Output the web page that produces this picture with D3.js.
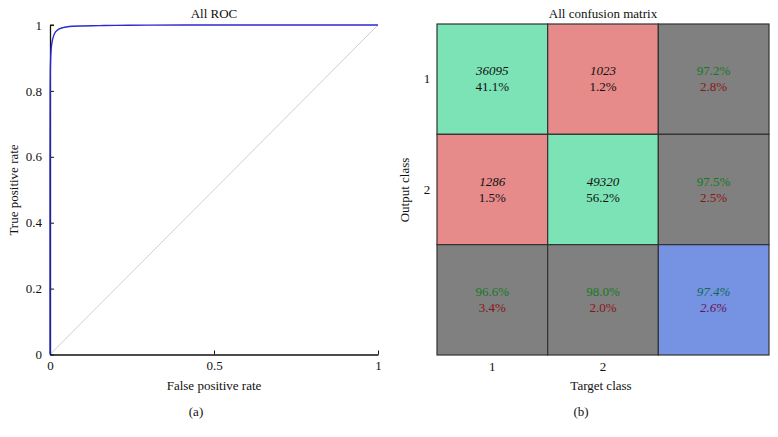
<!DOCTYPE html>
<html><head><meta charset="utf-8">
<script src="https://cdn.jsdelivr.net/npm/d3@7"></script>
<style>body{margin:0;background:#fff}svg{display:block}text{font-family:"Liberation Serif","DejaVu Serif",serif;fill:#111}</style>
</head><body>
<script>
// ROC data
const fpr = [0, 0, 0.0005, 0.001, 0.002, 0.003, 0.005, 0.007, 0.01, 0.013, 0.017, 0.022, 0.03, 0.04, 0.05, 0.07, 0.1, 0.15, 0.2, 0.3, 0.5, 0.7, 1];
const tpr = [0, 0.55, 0.8, 0.86, 0.9, 0.92, 0.94, 0.952, 0.964, 0.972, 0.979, 0.984, 0.989, 0.992, 0.994, 0.996, 0.997, 0.998, 0.999, 0.9995, 1, 1, 1];
const rocXTicks = [0, 0.5, 1];
const rocYTicks = [0, 0.2, 0.4, 0.6, 0.8, 1];
// Confusion matrix data
const classes = ["1", "2"];
const counts = [[36095, 1023], [1286, 49320]];
const countPct = [["41.1%", "1.2%"], ["1.5%", "56.2%"]];
const rowCorrect = ["97.2%", "97.5%"], rowWrong = ["2.8%", "2.5%"];
const colCorrect = ["96.6%", "98.0%"], colWrong = ["3.4%", "2.0%"];
const totalCorrect = "97.4%", totalWrong = "2.6%";

const W = 778, H = 437;
const svg = d3.select("body").append("svg").attr("width", W).attr("height", H);

// ---- ROC ----
const x = d3.scaleLinear().domain([0, 1]).range([50, 378]);
const y = d3.scaleLinear().domain([0, 1]).range([354.5, 25]);
const g = svg.append("g");
g.append("line").attr("x1", x(0)).attr("y1", y(0)).attr("x2", x(1)).attr("y2", y(1))
  .attr("stroke", "#d0d0d0").attr("stroke-width", 1);
const xAxis = d3.axisBottom(x).tickValues(rocXTicks).tickFormat(d3.format("~g")).tickSizeInner(-4).tickSizeOuter(0).tickPadding(6);
const yAxis = d3.axisLeft(y).tickValues(rocYTicks).tickFormat(d3.format("~g")).tickSizeInner(-4).tickSizeOuter(0).tickPadding(8);
const gx = g.append("g").attr("transform", `translate(0,${y(0)})`).call(xAxis);
const gy = g.append("g").attr("transform", `translate(${x(0)},0)`).call(yAxis);
[gx, gy].forEach(a => {
  a.select(".domain").attr("stroke", "#111").attr("stroke-width", 1.3);
  a.selectAll(".tick line").attr("stroke", "#111");
  a.selectAll("text").attr("font-size", 13).attr("fill", "#111").attr("font-family", "Liberation Serif, serif");
});
gy.append("line").attr("x1", 0).attr("x2", 4).attr("y1", y(1)).attr("y2", y(1)).attr("stroke", "#111");
g.append("path").datum(fpr.map((f, i) => [f, tpr[i]]))
  .attr("d", d3.line().x(d => x(d[0])).y(d => y(d[1])).curve(d3.curveMonotoneX))
  .attr("fill", "none").attr("stroke", "#2a2ad0").attr("stroke-width", 1.4);
g.append("text").attr("x", 214).attr("y", 18).attr("text-anchor", "middle").attr("font-size", 13).text("All ROC");
g.append("text").attr("x", 214).attr("y", 390).attr("text-anchor", "middle").attr("font-size", 13).text("False positive rate");
g.append("text").attr("transform", "translate(18,190) rotate(-90)").attr("text-anchor", "middle").attr("font-size", 13).text("True positive rate");
g.append("text").attr("x", 196).attr("y", 416).attr("text-anchor", "middle").attr("font-size", 13).text("(a)");

// ---- Confusion matrix ----
const n = classes.length + 1;
const cx = d3.scaleBand().domain(d3.range(n)).range([437, 769]);
const cy = d3.scaleBand().domain(d3.range(n)).range([24, 355]);
const cells = [];
for (let r = 0; r < n; r++) for (let c = 0; c < n; c++) {
  let fill, l1, l2, c1, c2, it1 = false, it2 = false;
  if (r < 2 && c < 2) {
    fill = r === c ? "#7be3b6" : "#e68a8a";
    l1 = String(counts[r][c]); l2 = countPct[r][c]; c1 = "#111"; c2 = "#111"; it1 = true;
  } else if (r < 2) {
    fill = "#808080"; l1 = rowCorrect[r]; l2 = rowWrong[r]; c1 = "#137a1e"; c2 = "#8a1515";
  } else if (c < 2) {
    fill = "#808080"; l1 = colCorrect[c]; l2 = colWrong[c]; c1 = "#137a1e"; c2 = "#8a1515";
  } else {
    fill = "#7592e3"; l1 = totalCorrect; l2 = totalWrong; c1 = "#136a52"; c2 = "#6a1450"; it1 = true; it2 = true;
  }
  cells.push({r, c, fill, l1, l2, c1, c2, it1, it2});
}
const cm = svg.append("g");
const cg = cm.selectAll("g.cell").data(cells).join("g");
cg.append("rect").attr("x", d => cx(d.c)).attr("y", d => cy(d.r))
  .attr("width", cx.bandwidth()).attr("height", cy.bandwidth())
  .attr("fill", d => d.fill).attr("stroke", "#333").attr("stroke-width", 1.2);
cg.append("text").attr("x", d => cx(d.c) + cx.bandwidth() / 2).attr("y", d => cy(d.r) + cy.bandwidth() / 2 - 4)
  .attr("text-anchor", "middle").attr("font-size", 13).attr("font-style", d => d.it1 ? "italic" : "normal")
  .style("fill", d => d.c1).text(d => d.l1);
cg.append("text").attr("x", d => cx(d.c) + cx.bandwidth() / 2).attr("y", d => cy(d.r) + cy.bandwidth() / 2 + 12)
  .attr("text-anchor", "middle").attr("font-size", 13).attr("font-style", d => d.it2 ? "italic" : "normal")
  .style("fill", d => d.c2).text(d => d.l2);
cm.selectAll("text.rl").data(classes).join("text").attr("class", "rl")
  .attr("x", 427).attr("y", (d, i) => cy(i) + cy.bandwidth() / 2 + 4).attr("text-anchor", "middle").attr("font-size", 13).text(d => d);
cm.selectAll("text.cl").data(classes).join("text").attr("class", "cl")
  .attr("x", (d, i) => cx(i) + cx.bandwidth() / 2).attr("y", 371).attr("text-anchor", "middle").attr("font-size", 13).text(d => d);
cm.append("text").attr("x", 603).attr("y", 18).attr("text-anchor", "middle").attr("font-size", 13).text("All confusion matrix");
cm.append("text").attr("x", 601).attr("y", 390).attr("text-anchor", "middle").attr("font-size", 13).text("Target class");
cm.append("text").attr("transform", "translate(409,190) rotate(-90)").attr("text-anchor", "middle").attr("font-size", 13).text("Output class");
cm.append("text").attr("x", 581).attr("y", 416).attr("text-anchor", "middle").attr("font-size", 13).text("(b)");
</script>
</body></html>
